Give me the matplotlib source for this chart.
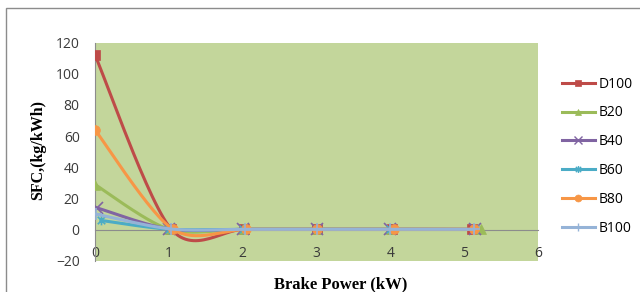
import numpy as np
import matplotlib.pyplot as plt
from matplotlib.patches import Rectangle
from matplotlib.path import Path
from matplotlib.lines import Line2D

# Brake power (kW) and SFC (kg/kWh) for each blend
series_names = ["D100", "B20", "B40", "B60", "B80", "B100"]
x_d100 = [0.0, 1.03, 2.02, 3.0, 4.02, 5.1]
y_d100 = [112, 0.5, 0.3, 0.3, 0.3, 0.3]
x_b20 = [0.0, 1.0, 2.0, 3.0, 4.0, 5.23]
y_b20 = [29, 0.4, 0.3, 0.3, 0.3, 0.2]
x_b40 = [0.03, 1.0, 2.0, 3.0, 4.0, 5.15]
y_b40 = [14, 0.5, 0.3, 0.3, 0.3, 0.2]
x_b60 = [0.08, 1.0, 2.0, 3.0, 4.0, 5.15]
y_b60 = [6, 0.4, 0.3, 0.3, 0.3, 0.2]
x_b80 = [0.0, 1.05, 2.05, 3.0, 4.05, 5.13]
y_b80 = [64, 0.5, 0.3, 0.3, 0.3, 0.3]
x_b100 = [0.02, 1.03, 2.03, 3.0, 4.0, 5.13]
y_b100 = [10, 0.5, 0.3, 0.3, 0.3, 0.3]

colors = ["#BE4B48", "#9BBB59", "#8064A2", "#4BACC6", "#F79646", "#95B3D7"]

# excel style asterisk marker: an x with a vertical bar
star_path = Path(
    [(-1, -1), (1, 1), (-1, 1), (1, -1), (0, -1.3), (0, 1.3)],
    [Path.MOVETO, Path.LINETO, Path.MOVETO, Path.LINETO, Path.MOVETO, Path.LINETO],
)
markers = ["s", "^", "x", star_path, "o", "+"]
msizes = [7, 7, 8, 7, 7, 8]


def smooth(xs, ys, k=0.15, n=30):
    # bezier smoothing of the kind spreadsheet charts use
    p = np.column_stack([xs, ys]).astype(float)
    out = []
    for i in range(len(p) - 1):
        p0 = p[i - 1] if i > 0 else p[i]
        p3 = p[i + 2] if i + 2 < len(p) else p[i + 1]
        c1 = p[i] + (p[i + 1] - p0) * k
        c2 = p[i + 1] - (p3 - p[i]) * k
        t = np.linspace(0, 1, n)[:, None]
        seg = ((1 - t) ** 3 * p[i] + 3 * (1 - t) ** 2 * t * c1
               + 3 * (1 - t) * t ** 2 * c2 + t ** 3 * p[i + 1])
        out.append(seg if i == 0 else seg[1:])
    seg = np.vstack(out)
    return seg[:, 0], seg[:, 1]


fig = plt.figure(figsize=(6.4, 2.92), dpi=100)
fig.patches.append(Rectangle((6 / 640, -0.1), 1.0, (292 - 8) / 292 + 0.1,
                             transform=fig.transFigure, fill=False,
                             edgecolor="#8C8C8C", linewidth=1.0))

ax = fig.add_axes([95 / 640, 31 / 292, 443 / 640, 218.5 / 292])
ax.set_facecolor("#C3D69B")

xs_all = [x_d100, x_b20, x_b40, x_b60, x_b80, x_b100]
ys_all = [y_d100, y_b20, y_b40, y_b60, y_b80, y_b100]

# series drawn in order, B100 ends up on top
for i in range(len(series_names)):
    sx, sy = smooth(xs_all[i], ys_all[i])
    ax.plot(sx, sy, color=colors[i], lw=2.2, zorder=3 + i * 0.1)
    ax.plot(xs_all[i], ys_all[i], ls="none", marker=markers[i], ms=msizes[i],
            color=colors[i], mec=colors[i], mew=1.2 if i in (2, 3, 5) else 0.5,
            zorder=3.05 + i * 0.1)

ax.set_xlim(0, 6)
ax.set_ylim(-20, 120)
ax.set_xticks(range(0, 7))
ax.set_yticks(range(-20, 121, 20))

ax.spines["top"].set_visible(False)
ax.spines["right"].set_visible(False)
ax.spines["bottom"].set_position(("data", 0))
ax.spines["bottom"].set_color("#8C8C8C")
ax.spines["left"].set_color("#8C8C8C")
ax.tick_params(axis="both", length=0, labelsize=10, colors="#3A3A3A",
               labelfontfamily="Open Sans")
ax.tick_params(axis="x", pad=12)
ax.tick_params(axis="y", pad=11)

fig.text(38 / 640, 1 - 150 / 292, "SFC,(kg/kWh)", rotation=90, ha="center",
         va="center", fontsize=11.5, fontweight="bold", family="Liberation Serif")
fig.text(341 / 640, 1 - 284 / 292, "Brake Power (kW)", ha="center",
         va="center", fontsize=12, fontweight="bold", family="Liberation Serif")

handles = [Line2D([], [], color=colors[i], lw=2.2, marker=markers[i],
                  ms=msizes[i] - 2, mec=colors[i],
                  mew=1.0 if i in (2, 3, 5) else 0.5)
           for i in range(len(series_names))]
fig.legend(handles, series_names, loc="upper left",
           bbox_to_anchor=(549 / 640, 1 - 64 / 292), frameon=False,
           handlelength=2.4, handletextpad=0.25, labelspacing=1.0,
           prop={"family": "Open Sans", "size": 10})

fig.savefig("out.png", dpi=100)
